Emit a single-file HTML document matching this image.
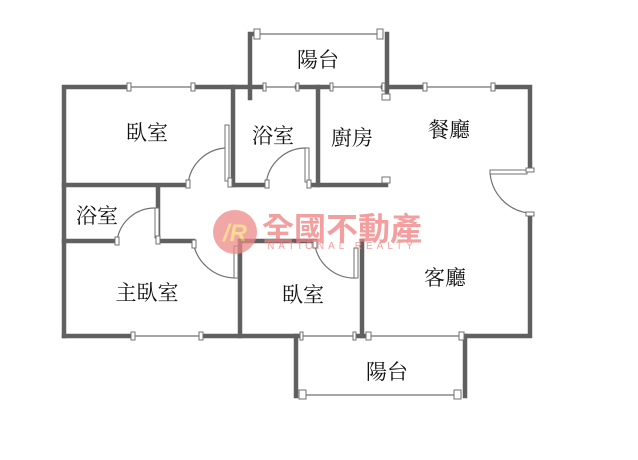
<!DOCTYPE html>
<html><head><meta charset="utf-8"><style>
html,body{margin:0;padding:0;background:#fff;}
svg{display:block;}
text{font-family:"Liberation Serif","Noto Serif CJK SC","Noto Sans CJK TC",serif;}
</style></head><body>
<svg width="638" height="460" viewBox="0 0 638 460" xmlns="http://www.w3.org/2000/svg">
<g stroke="#606060" stroke-width="4.5" fill="none" stroke-linecap="square">
<path d="M250 98 V34 H256"/><path d="M387 34 V98"/>
<path d="M64 336 V87 H129"/><path d="M193 87 H264"/><path d="M297 87 H331"/>
<path d="M383 87 H424"/><path d="M493 87 H530 V170"/><path d="M530 215 V336 H465"/>
<path d="M233 87 V185"/><path d="M318 87 V185"/>
<path d="M64 185 H188"/><path d="M233 185 H266"/><path d="M309 185 H386"/>
<path d="M158 187 V241"/>
<path d="M64 241 H117"/><path d="M158 241 H193"/><path d="M240 241 H315"/>
<path d="M240 241 V336"/><path d="M362 241 V336"/>
<path d="M64 336 H133"/><path d="M201 336 H300"/><path d="M355 336 H368"/>
<path d="M296 336 V396"/><path d="M465 336 V396"/>
</g>
<g stroke="#707070" stroke-width="1.2" fill="none">
<line x1="256" y1="34" x2="381" y2="34"/>
<line x1="129" y1="87" x2="193" y2="87"/>
<line x1="264" y1="87" x2="297" y2="87"/>
<line x1="331" y1="87" x2="383" y2="87"/>
<line x1="424" y1="87" x2="493" y2="87"/>
<line x1="133" y1="336" x2="201" y2="336"/>
<line x1="302" y1="336" x2="355" y2="336"/>
<line x1="368" y1="336" x2="462" y2="336"/>
<line x1="302" y1="395" x2="460" y2="395"/>
<path d="M188 185 A40 40 0 0 1 228 148"/>
<path d="M266 185 A40 40 0 0 1 307 148"/>
<path d="M117 241 A38 38 0 0 1 155 208"/>
<path d="M193 241 A43 43 0 0 0 236 278"/>
<path d="M315 246 A40 40 0 0 0 356 278"/>
<path d="M490 172 A44 44 0 0 0 528 213"/>
</g>
<g fill="#fff" stroke="#707070" stroke-width="1">
<rect x="254" y="29" width="6" height="10"/><rect x="377" y="29" width="6" height="10"/>
<rect x="127" y="83" width="4" height="8"/><rect x="191" y="83" width="4" height="8"/>
<rect x="263" y="83" width="3" height="8"/><rect x="296" y="83" width="3" height="8"/>
<rect x="330" y="83" width="3" height="8"/><rect x="382" y="83" width="3" height="8"/>
<rect x="423" y="83" width="4" height="8"/><rect x="491" y="83" width="4" height="8"/>
<rect x="382" y="94" width="8" height="6"/><rect x="382" y="177" width="8" height="6"/>
<rect x="225" y="125" width="4" height="56"/><rect x="228" y="178" width="4" height="9"/>
<rect x="186" y="180" width="4" height="8"/>
<rect x="305" y="148" width="4" height="34"/><rect x="307" y="180" width="4" height="8"/>
<rect x="265" y="180" width="4" height="8"/>
<rect x="155" y="208" width="4" height="30"/><rect x="156" y="236" width="4" height="8"/>
<rect x="115" y="237" width="4" height="8"/>
<rect x="234" y="246" width="4" height="32"/><rect x="192" y="240" width="4" height="8"/>
<rect x="354" y="248" width="4" height="30"/><rect x="313" y="240" width="4" height="8"/>
<rect x="490" y="170" width="37" height="4"/><rect x="526" y="168" width="8" height="4"/>
<rect x="526" y="212" width="8" height="4"/>
<rect x="131" y="332" width="4" height="8"/><rect x="199" y="332" width="4" height="8"/>
<rect x="300" y="332" width="3" height="8"/><rect x="353" y="332" width="3" height="8"/>
<rect x="366" y="332" width="5" height="8"/><rect x="459" y="332" width="5" height="8"/>
<rect x="299" y="390" width="7" height="9"/><rect x="454" y="390" width="7" height="9"/>
</g>
<g font-size="21" fill="#111" text-anchor="middle">
<text x="318" y="67">陽台</text>
<text x="147" y="140">臥室</text>
<text x="273" y="143">浴室</text>
<text x="352" y="145">廚房</text>
<text x="449" y="137">餐廳</text>
<text x="97" y="223">浴室</text>
<text x="147" y="300">主臥室</text>
<text x="303" y="302">臥室</text>
<text x="445" y="285">客廳</text>
<text x="387" y="379">陽台</text>
</g>
<g opacity="0.75">
<circle cx="235" cy="232" r="22" fill="#ee8a8a"/>
<text x="235" y="241" font-size="24" font-weight="bold" font-style="italic" fill="#f5d070" text-anchor="middle" style="font-family:'Liberation Sans',sans-serif">/R</text>
<text x="342" y="240" font-size="32" font-weight="bold" fill="#f08080" text-anchor="middle" style="font-family:'Liberation Sans','Noto Sans CJK TC',sans-serif">全國不動產</text>
<text x="342" y="249" font-size="10" fill="#f08080" text-anchor="middle" letter-spacing="4" style="font-family:'Liberation Sans',sans-serif">NATIONAL REALTY</text>
</g>
</svg>
</body></html>
